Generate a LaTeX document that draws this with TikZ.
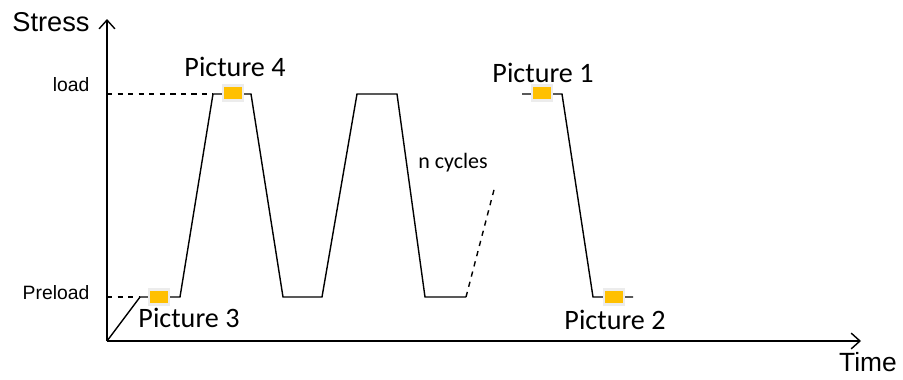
\documentclass[tikz,border=0pt]{standalone}
\usepackage{fontspec}
\setmainfont{Liberation Sans}
\newfontfamily\calibri{Carlito}
\usepackage{xcolor}
\definecolor{pictyellow}{RGB}{255,192,0}
\usetikzlibrary{arrows.meta}
\tikzset{>={Straight Barb[length=5pt,width=9pt]}}

\begin{document}
\begin{tikzpicture}[x=0.02cm,y=-0.02cm,line width=0.8pt]
  \tikzstyle{marker}=[draw=gray!15,line width=1.6pt,fill=pictyellow,minimum width=0.4cm,minimum height=0.3cm,inner sep=0pt]
  \tikzstyle{piclabel}=[font=\calibri\fontsize{16}{19}\selectfont,inner sep=0pt]
  \tikzstyle{level}=[font=\fontsize{11}{13}\selectfont,inner sep=0pt,anchor=east]
  \useasboundingbox (0,0) rectangle (903,379);
  % axes
  \coordinate (o) at (107,341);
  \coordinate (ytip) at (107,19);
  \coordinate (xtip) at (861,341);
  \draw[->] (o) -- (ytip);
  \draw[->] (o) -- (xtip);
  \node[font=\fontsize{15.5}{18}\selectfont,inner sep=0pt](stress) at (51,22){Stress};
  \node[font=\fontsize{15}{18}\selectfont,inner sep=0pt](time) at (868,362){Time};
  \node[level](load) at (90,85){load};
  \node[level](preload) at (90,293){Preload};
  % the curve
  \coordinate (p0) at (140,297);
  \coordinate (p1) at (180,297);
  \coordinate (p2) at (213,94);
  \coordinate (p3) at (251,94);
  \coordinate (p4) at (283,297);
  \coordinate (p5) at (322,297);
  \coordinate (p6) at (357,94);
  \coordinate (p7) at (397,94);
  \coordinate (p8) at (425,297);
  \coordinate (p9) at (466,297);
  \coordinate (q0) at (495,186);
  \coordinate (r0) at (522,94);
  \coordinate (r1) at (562,94);
  \coordinate (r2) at (593,297);
  \coordinate (r3) at (633,297);
  \draw[dashed] (107,297) -- (p0);
  \draw[dashed] (107,94) -- (p2);
  \draw (o) -- (p0) -- (p1) -- (p2) -- (p3) -- (p4) -- (p5) -- (p6) -- (p7) -- (p8) -- (p9);
  \draw[dashed] (p9) -- (q0);
  \draw (r0) -- (r1) -- (r2) -- (r3);
  % markers
  \node[marker](m3) at (159,297){};
  \node[marker](m4) at (233,93){};
  \node[marker](m1) at (542,93){};
  \node[marker](m2) at (614,297){};
  \node[piclabel](pic3) at (189,318){Picture 3};
  \node[piclabel](pic4) at (235,67){Picture 4};
  \node[piclabel](pic1) at (543,73){Picture 1};
  \node[piclabel](pic2) at (615,320){Picture 2};
  \node[font=\calibri\fontsize{12.5}{15}\selectfont,inner sep=0pt](cycles) at (453,163){n cycles};
\end{tikzpicture}
\end{document}
